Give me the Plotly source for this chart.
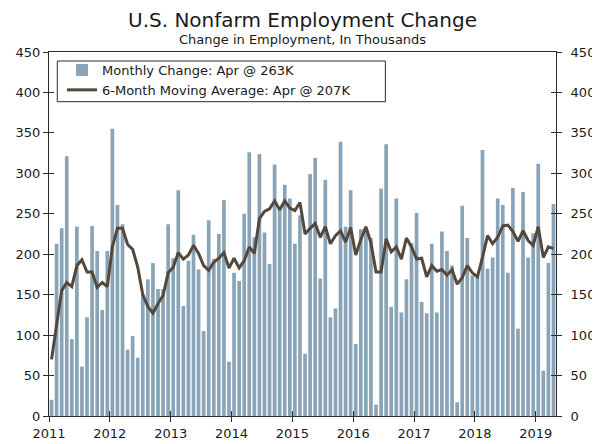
import plotly.graph_objects as go

years = ["2011", "2012", "2013", "2014", "2015", "2016", "2017", "2018", "2019"]

# Monthly change in nonfarm payrolls (thousands), Jan 2011 - Apr 2019
monthly_change = [
    20, 213, 232, 321, 95, 234, 61, 122, 235, 204, 131, 204,      # 2011
    355, 261, 237, 82, 99, 72, 150, 169, 189, 157, 157, 237,      # 2012
    195, 279, 136, 192, 224, 181, 105, 242, 194, 225, 267, 67,    # 2013
    177, 167, 250, 326, 221, 324, 227, 188, 311, 258, 286, 269,   # 2014
    213, 248, 77, 299, 319, 170, 292, 122, 133, 339, 234, 279,    # 2015
    89, 231, 232, 220, 14, 281, 336, 135, 269, 128, 169, 214,     # 2016
    251, 141, 127, 213, 128, 228, 204, 186, 17, 260, 220, 174,    # 2017
    174, 329, 182, 196, 269, 261, 177, 282, 108, 277, 196, 226,   # 2018
    312, 56, 189, 262,                                            # 2019
]

# 6-month moving average (thousands)
moving_avg = [
    70, 110, 155, 165, 160, 186, 193, 178, 178, 159, 165, 160,    # 2011
    209, 232, 232, 212, 206, 184, 150, 135, 127, 139, 149, 177,   # 2012
    184, 202, 194, 199, 211, 201, 186, 180, 190, 195, 202, 183,   # 2013
    195, 183, 192, 209, 201, 244, 253, 256, 266, 255, 266, 257,   # 2014
    254, 264, 225, 232, 238, 221, 234, 213, 223, 229, 215, 233,   # 2015
    199, 218, 234, 214, 178, 178, 219, 203, 209, 194, 220, 209,   # 2016
    194, 195, 172, 186, 179, 181, 174, 181, 163, 171, 186, 177,   # 2017
    172, 196, 223, 213, 221, 235, 236, 228, 216, 229, 217, 211,   # 2018
    234, 196, 209, 207,                                           # 2019
]

n = len(monthly_change)
x_pos = [i + 0.5 for i in range(n)]
tick_vals = [12 * i for i in range(len(years))]
y_ticks = list(range(0, 451, 50))

FONT = "Verdana, DejaVu Sans, sans-serif"
AXIS_COLOR = "#2b2b2b"
TXT = "#1a1a1a"

# figure size; the page body adds an 8px margin, so figure px = page px - 8
W, H = 592, 436
M_L, M_R, M_T, M_B = 41, 43.5, 44, 28
plot_w = W - M_L - M_R
plot_h = H - M_T - M_B


def py(px_from_top):
    return (H - M_B - px_from_top) / plot_h


def pxx(px_from_left):
    return (px_from_left - M_L) / plot_w


fig = go.Figure()
fig.add_trace(go.Bar(
    x=x_pos, y=monthly_change,
    name="Monthly Change: Apr @ 263K",
    marker=dict(color="#8aa4b7", line=dict(width=0)),
))
fig.add_trace(go.Scatter(
    x=x_pos, y=moving_avg, mode="lines",
    name="6-Month Moving Average: Apr @ 207K",
    line=dict(color="#54473b", width=3),
))
# empty helper traces so the overlay axes (crossing ticks, right axis) are drawn
for xa, ya in [("x", "y2"), ("x", "y3"), ("x", "y4"), ("x2", "y")]:
    fig.add_trace(go.Scatter(x=[None], y=[None], xaxis=xa, yaxis=ya,
                             showlegend=False, hoverinfo="skip"))

tickfont = dict(family=FONT, size=13, color=TXT)
common_y = dict(range=[0, 450], tickmode="array", tickvals=y_ticks,
                showgrid=False, zeroline=False, automargin=False,
                tickcolor=AXIS_COLOR, ticklen=5, tickwidth=1)

fig.update_layout(
    width=W, height=H,
    margin=dict(l=M_L, r=M_R, t=M_T, b=M_B, autoexpand=False),
    paper_bgcolor="white", plot_bgcolor="white",
    bargap=0.27,
    showlegend=True,
    font=dict(family=FONT, size=13, color=TXT),
    legend=dict(
        x=pxx(54), y=py(47), xanchor="left", yanchor="top",
        bgcolor="rgba(0,0,0,0)", borderwidth=0,
        font=dict(family=FONT, size=13, color=TXT),
        tracegroupgap=0, itemwidth=30,
    ),
    xaxis=dict(
        range=[0, n], tickmode="array", tickvals=tick_vals, ticktext=years,
        showline=True, linecolor=AXIS_COLOR, linewidth=1, mirror=True,
        ticks="outside", ticklen=5, tickcolor=AXIS_COLOR,
        showgrid=False, zeroline=False, automargin=False,
        tickfont=tickfont,
    ),
    xaxis2=dict(
        range=[0, n], tickmode="array", tickvals=tick_vals,
        overlaying="x", side="bottom", anchor="y",
        showline=False, showticklabels=False,
        ticks="inside", ticklen=5, tickcolor=AXIS_COLOR,
        showgrid=False, zeroline=False, automargin=False,
    ),
    yaxis=dict(
        **common_y, showline=True, linecolor=AXIS_COLOR, linewidth=1,
        ticks="outside", tickfont=tickfont,
    ),
    yaxis2=dict(
        **common_y, overlaying="y", side="right",
        showline=True, linecolor=AXIS_COLOR, linewidth=1,
        ticks="outside", tickfont=tickfont, ticklabelstandoff=6,
    ),
    yaxis3=dict(
        **common_y, overlaying="y", side="left",
        showline=False, showticklabels=False, ticks="inside",
    ),
    yaxis4=dict(
        **common_y, overlaying="y", side="right",
        showline=False, showticklabels=False, ticks="inside",
    ),
    shapes=[
        dict(type="rect", xref="paper", yref="paper",
             x0=pxx(49.3), x1=pxx(377.7), y0=py(93.7), y1=py(53),
             line=dict(color=AXIS_COLOR, width=1), fillcolor="white",
             layer="below"),
    ],
    annotations=[
        dict(text="U.S. Nonfarm Employment Change", x=0.5, y=py(11.5),
             xref="paper", yref="paper", showarrow=False, yanchor="middle",
             font=dict(family=FONT, size=20, color=TXT)),
        dict(text="Change in Employment, In Thousands", x=0.5, y=py(31.5),
             xref="paper", yref="paper", showarrow=False, yanchor="middle",
             font=dict(family=FONT, size=13, color=TXT)),
    ],
)

fig.write_html("out.html")
